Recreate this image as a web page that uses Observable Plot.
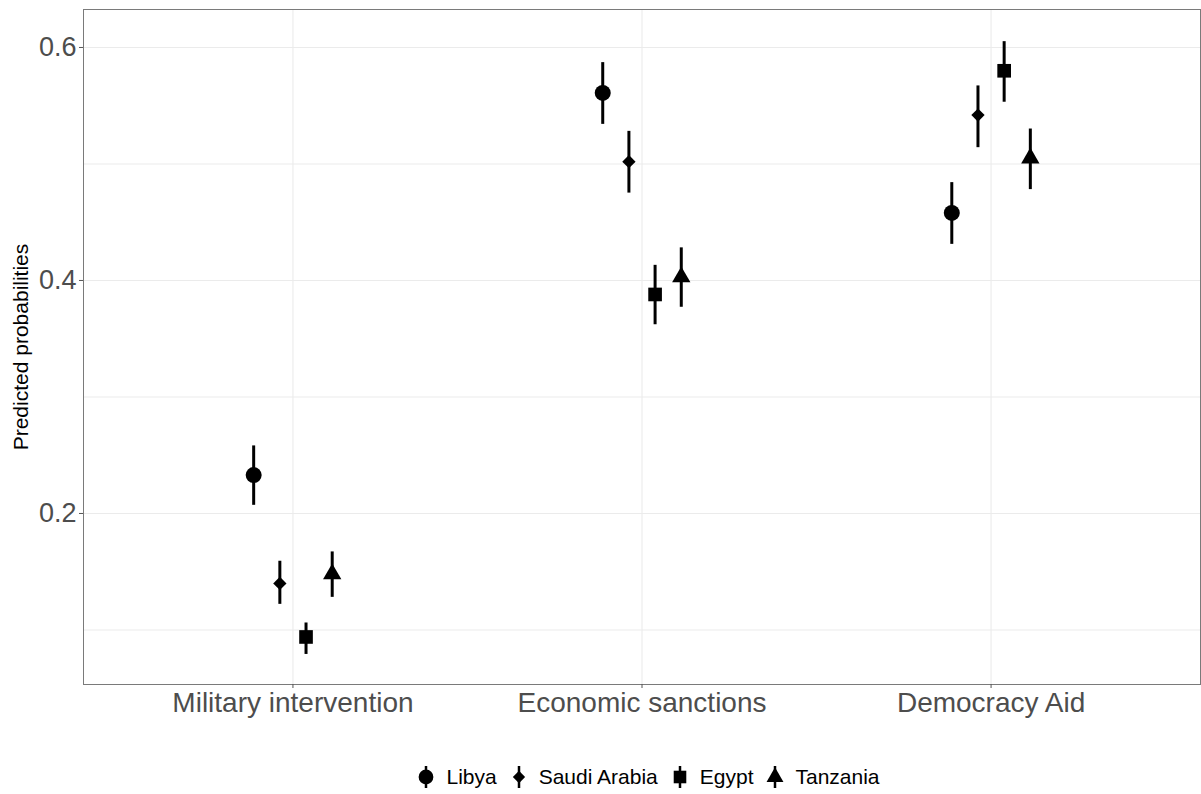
<!DOCTYPE html>
<html>
<head>
<meta charset="utf-8">
<script src="https://cdn.jsdelivr.net/npm/d3@7"></script>
<script src="https://cdn.jsdelivr.net/npm/@observablehq/plot@0.6"></script>
<style>
  html, body { margin: 0; padding: 0; background: #fff; }
  body { width: 1201px; height: 794px; position: relative; font-family: "Liberation Sans", Arial, Helvetica, sans-serif; }
  #chart { position: absolute; left: 0; top: 0; }
  #legend { position: absolute; left: 0; top: 760px; width: 1201px; height: 34px; display: flex; justify-content: center; align-items: center; font-size: 21px; color: #000; padding-left: 93px; box-sizing: border-box; }
  .item { display: flex; align-items: center; margin: 0 5px; }
  .item svg { margin-right: 8px; }
</style>
</head>
<body>
<div id="chart"></div>
<div id="legend"></div>
<script>
const categories = ["Military intervention", "Economic sanctions", "Democracy Aid"];
const countries = ["Libya", "Saudi Arabia", "Egypt", "Tanzania"];

// predicted probabilities per country, in category order
const libyaEst  = [0.233, 0.561, 0.458];
const libyaLow  = [0.207, 0.534, 0.431];
const libyaHigh = [0.258, 0.587, 0.484];

const saudiEst  = [0.140, 0.502, 0.542];
const saudiLow  = [0.122, 0.475, 0.514];
const saudiHigh = [0.159, 0.528, 0.567];

const egyptEst  = [0.094, 0.388, 0.580];
const egyptLow  = [0.079, 0.362, 0.553];
const egyptHigh = [0.106, 0.413, 0.605];

const tanzEst   = [0.148, 0.403, 0.505];
const tanzLow   = [0.128, 0.377, 0.478];
const tanzHigh  = [0.167, 0.428, 0.530];

const yTicks = [0.2, 0.4, 0.6];
const yGrid = [0.1, 0.2, 0.3, 0.4, 0.5, 0.6];

const series = [
  {country: "Libya", est: libyaEst, low: libyaLow, high: libyaHigh},
  {country: "Saudi Arabia", est: saudiEst, low: saudiLow, high: saudiHigh},
  {country: "Egypt", est: egyptEst, low: egyptLow, high: egyptHigh},
  {country: "Tanzania", est: tanzEst, low: tanzLow, high: tanzHigh}
];

// dodge (width 0.3) within each category
const dodgeWidth = 0.3;
const data = [];
series.forEach((s, gi) => {
  categories.forEach((c, ci) => {
    data.push({
      category: c,
      country: s.country,
      pos: ci + 1 + (gi - 1.5) * dodgeWidth / countries.length,
      est: s.est[ci], low: s.low[ci], high: s.high[ci]
    });
  });
});

const symbols = {"Libya": "circle", "Saudi Arabia": "diamond2", "Egypt": "square", "Tanzania": "triangle"};
const radii = {"Libya": 8, "Saudi Arabia": 6, "Egypt": 7.7, "Tanzania": 6.8};

const font = '"Liberation Sans", Arial, Helvetica, sans-serif';

const chart = Plot.plot({
  width: 1201,
  height: 740,
  marginLeft: 83,
  marginRight: 1,
  marginTop: 9,
  marginBottom: 56,
  style: {fontFamily: font, background: "#fff"},
  x: {type: "linear", domain: [0.4, 3.6]},
  y: {domain: [0.0532, 0.6326]},
  marks: [
    Plot.gridY(yGrid, {stroke: "#EBEBEB", strokeOpacity: 1, strokeWidth: 1.1}),
    Plot.gridX([1, 2, 3], {stroke: "#EBEBEB", strokeOpacity: 1, strokeWidth: 1.1}),
    Plot.frame({stroke: "#7a7a7a", strokeWidth: 1}),
    Plot.axisX({ticks: [1, 2, 3], tickFormat: d => categories[d - 1], tickSize: 4, tickPadding: 4,
      fontSize: 28, color: "#4D4D4D", stroke: "#555", label: null}),
    Plot.axisY({ticks: yTicks, tickFormat: d3.format(".1f"), tickSize: 4, tickPadding: 3,
      fontSize: 27, color: "#4D4D4D", stroke: "#555", label: null}),
    Plot.text(["Predicted probabilities"], {frameAnchor: "left", textAnchor: "middle", rotate: -90, dx: -62.5, fontSize: 21, fill: "#000"}),
    Plot.ruleX(data, {x: "pos", y1: "low", y2: "high", stroke: "#000", strokeWidth: 3}),
    ...countries.map(c => Plot.dot(data.filter(d => d.country === c), {
      x: "pos", y: "est", symbol: () => symbols[c], r: radii[c], fill: "#000", stroke: "none"
    }))
  ],
  symbol: {type: "identity"}
});
document.getElementById("chart").appendChild(chart);

// legend
const legend = d3.select("#legend");
const symTypes = {"Libya": d3.symbolCircle, "Saudi Arabia": d3.symbolDiamond2, "Egypt": d3.symbolSquare, "Tanzania": d3.symbolTriangle};
countries.forEach(c => {
  const item = legend.append("div").attr("class", "item");
  const svg = item.append("svg").attr("width", 24).attr("height", 30);
  svg.append("line").attr("x1", 12).attr("x2", 12).attr("y1", 4).attr("y2", 26).attr("stroke", "#000").attr("stroke-width", 2.5);
  svg.append("path").attr("transform", "translate(12,15)")
    .attr("d", d3.symbol(symTypes[c], Math.PI * radii[c] * radii[c] * 0.85)())
    .attr("fill", "#000");
  item.append("span").text(c);
});
</script>
</body>
</html>
